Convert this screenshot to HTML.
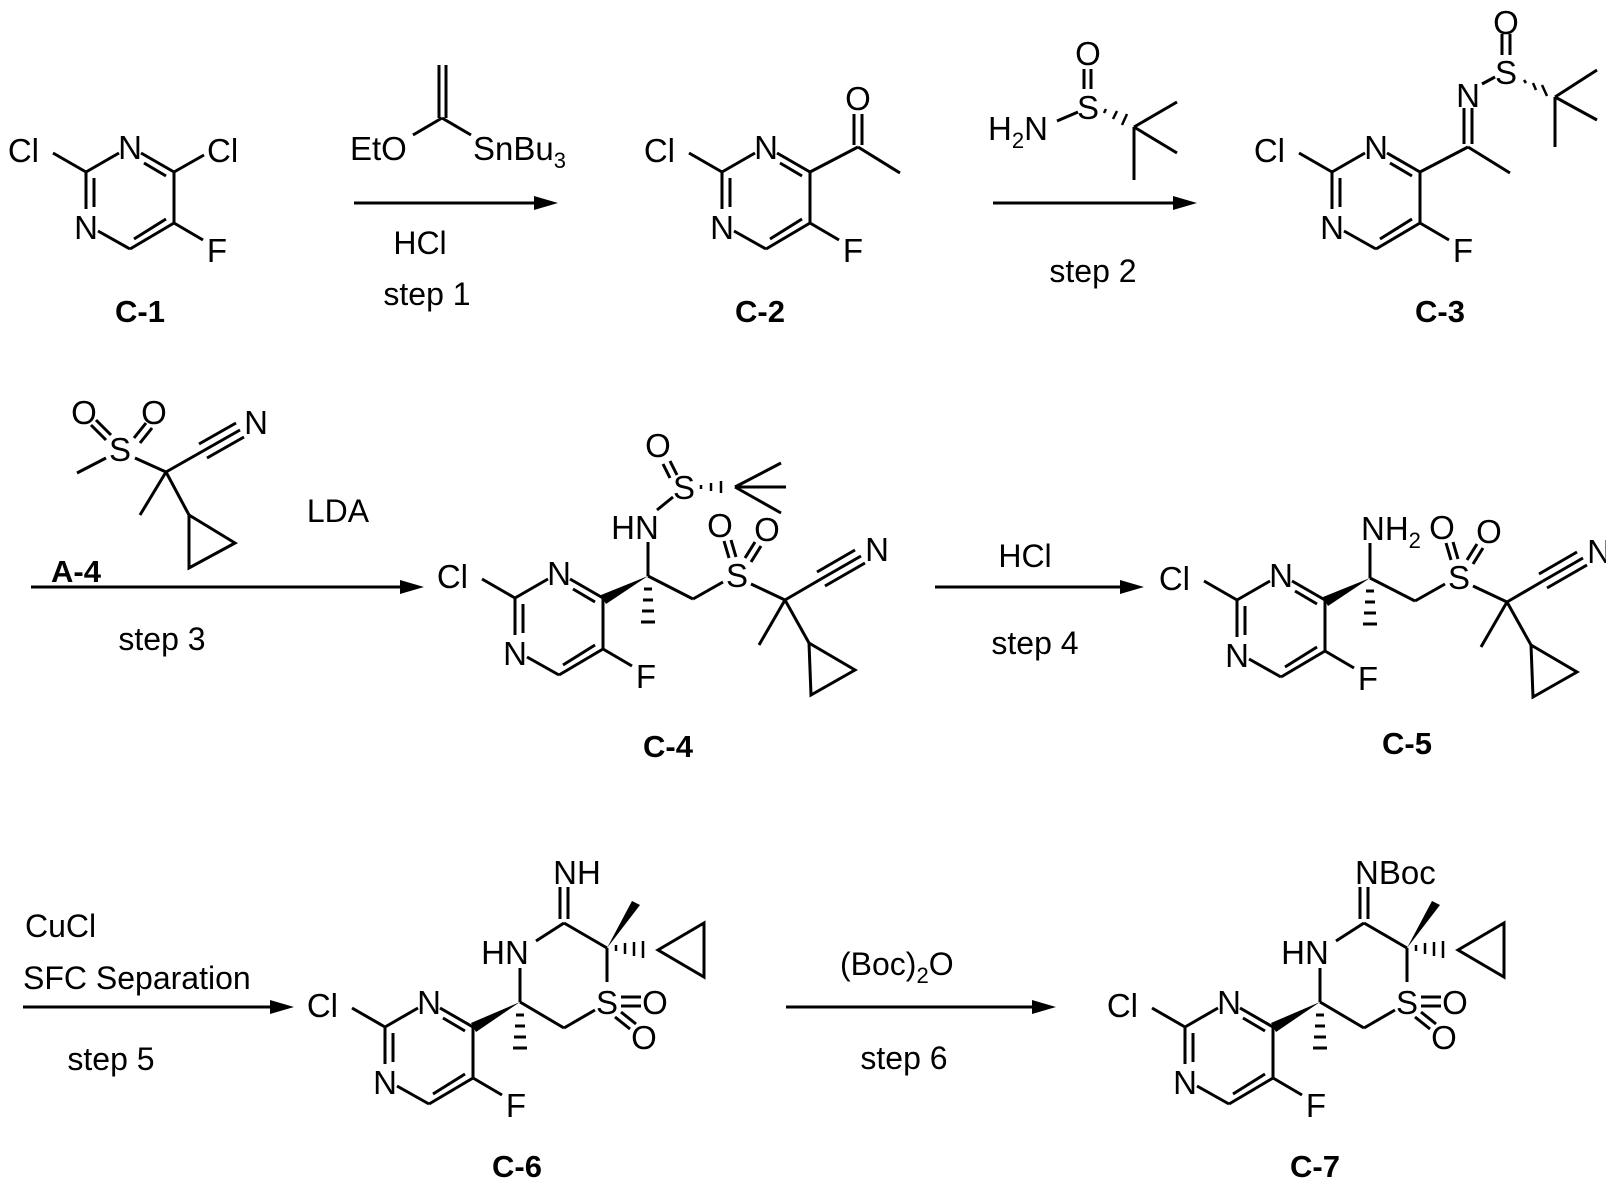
<!DOCTYPE html>
<html><head><meta charset="utf-8"><style>
html,body{margin:0;padding:0;background:#fff;}
svg{display:block;}
text{font-family:"Liberation Sans",Arial,sans-serif;font-size:33px;fill:#000;}
.b{font-weight:bold;font-size:31px;}
.r{font-size:32px;}
</style></head><body>
<svg width="1606" height="1181" viewBox="0 0 1606 1181" xmlns="http://www.w3.org/2000/svg">
<defs>
<g id="pyr" stroke="#000" stroke-width="3" fill="none">
  <line x1="-33" y1="-19" x2="0" y2="0"/>
  <line x1="0" y1="0" x2="33" y2="-19"/>
  <line x1="55" y1="-19" x2="88" y2="0"/>
  <line x1="58" y1="-9" x2="80" y2="4"/>
  <line x1="88" y1="0" x2="88" y2="51"/>
  <line x1="88" y1="51" x2="44" y2="77"/>
  <line x1="80" y1="47" x2="48" y2="67"/>
  <line x1="44" y1="77" x2="12" y2="59"/>
  <line x1="0" y1="0" x2="0" y2="37"/>
  <line x1="8" y1="6" x2="8" y2="35"/>
  <line x1="88" y1="51" x2="117" y2="68"/>
</g>
<g id="pyrt">
  <text x="-47" y="-10" text-anchor="end">Cl</text>
  <text x="44" y="-13" text-anchor="middle">N</text>
  <text x="0" y="67" text-anchor="middle">N</text>
  <text x="131" y="90" text-anchor="middle">F</text>
</g>
<g id="side" stroke="#000" stroke-width="3" fill="none">
  <line x1="133" y1="-22" x2="178" y2="1"/>
  <line x1="178" y1="1" x2="208" y2="-16"/>
  <line x1="236" y1="-14" x2="270" y2="2"/>
  <line x1="214" y1="-40" x2="209" y2="-57"/><line x1="221" y1="-41" x2="216" y2="-58"/>
  <line x1="230" y1="-40" x2="240" y2="-56"/><line x1="236" y1="-36" x2="246" y2="-52"/>
  <line x1="270" y1="2" x2="306" y2="-19"/>
  <line x1="306" y1="-19" x2="346" y2="-42"/>
  <line x1="302" y1="-26" x2="340" y2="-48"/>
  <line x1="310" y1="-12" x2="350" y2="-35"/>
  <line x1="270" y1="2" x2="244" y2="47"/>
  <line x1="270" y1="2" x2="294" y2="45"/>
  <polygon points="294,45 340,72 296,97"/>
</g>
<g id="sidet">
  <text x="222" y="-11" text-anchor="middle">S</text>
  <text x="205" y="-61" text-anchor="middle">O</text>
  <text x="252" y="-57" text-anchor="middle">O</text>
  <text x="362" y="-37" text-anchor="middle">N</text>
</g>
<g id="ring6" stroke="#000" stroke-width="3" fill="none">
  <line x1="135" y1="-25" x2="135" y2="-59"/>
  <line x1="151" y1="-86" x2="179" y2="-104"/>
  <line x1="175" y1="-108" x2="175" y2="-140"/>
  <line x1="183" y1="-108" x2="183" y2="-140"/>
  <line x1="179" y1="-104" x2="222" y2="-79"/>
  <line x1="222" y1="-79" x2="222" y2="-45"/>
  <line x1="236" y1="-30" x2="256" y2="-30"/>
  <line x1="236" y1="-21" x2="256" y2="-21"/>
  <line x1="230" y1="-10" x2="245" y2="2"/>
  <line x1="236" y1="-15" x2="251" y2="-3"/>
  <line x1="210" y1="-17" x2="179" y2="1"/>
  <line x1="179" y1="1" x2="135" y2="-25"/>
  <polygon points="273,-77 319,-104 319,-50"/>
  <g stroke-width="2.5">
    <line x1="231" y1="-82" x2="231" y2="-76"/><line x1="240" y1="-84" x2="240" y2="-73"/>
    <line x1="249" y1="-85" x2="249" y2="-71"/><line x1="258" y1="-86" x2="258" y2="-69"/>
  </g>
  <g stroke-width="3">
    <line x1="131" y1="-12" x2="139" y2="-12"/><line x1="130" y1="-1" x2="140" y2="-1"/>
    <line x1="129" y1="10" x2="141" y2="10"/><line x1="128" y1="21" x2="142" y2="21"/>
  </g>
</g>
<g id="ring6f">
  <polygon points="222,-79 247,-126 255,-122"/>
  <polygon points="135,-25 86,-4 91,5"/>
</g>
</defs>

<g transform="translate(86,172)">
  <use href="#pyr"/><use href="#pyrt"/>
  <line x1="88" y1="0" x2="118" y2="-17" stroke="#000" stroke-width="3"/>
  <text x="121" y="-10">Cl</text>
</g>
<text class="b" x="140" y="322" text-anchor="middle">C-1</text>

<g stroke="#000" stroke-width="3" fill="none">
  <line x1="442" y1="118" x2="413" y2="135"/>
  <line x1="442" y1="118" x2="471" y2="135"/>
  <line x1="439" y1="118" x2="439" y2="65"/>
  <line x1="446" y1="118" x2="446" y2="65"/>
  <line x1="354" y1="203" x2="538" y2="203"/>
</g>
<polygon points="558,203 534,196 534,210"/>
<text x="350" y="160">EtO</text>
<text x="473" y="160">SnBu<tspan font-size="22" dy="8">3</tspan></text>
<text class="r" x="420" y="254" text-anchor="middle">HCl</text>
<text class="r" x="427" y="305" text-anchor="middle">step 1</text>

<g transform="translate(722,172)">
  <use href="#pyr"/><use href="#pyrt"/>
  <g stroke="#000" stroke-width="3">
    <line x1="88" y1="0" x2="136" y2="-25"/>
    <line x1="136" y1="-25" x2="178" y2="1"/>
    <line x1="132" y1="-27" x2="132" y2="-58"/>
    <line x1="140" y1="-27" x2="140" y2="-58"/>
  </g>
  <text x="136" y="-62" text-anchor="middle">O</text>
</g>
<text class="b" x="760" y="322" text-anchor="middle">C-2</text>

<g stroke="#000" stroke-width="3" fill="none">
  <line x1="1057" y1="121" x2="1078" y2="112"/>
  <line x1="1084" y1="69" x2="1084" y2="89"/>
  <line x1="1091" y1="69" x2="1091" y2="89"/>
  <line x1="1134" y1="127" x2="1177" y2="102"/>
  <line x1="1134" y1="127" x2="1177" y2="153"/>
  <line x1="1134" y1="127" x2="1134" y2="180"/>
  <line x1="993" y1="203" x2="1177" y2="203"/>
</g>
<g stroke="#000" stroke-width="2.5">
  <line x1="1104" y1="113" x2="1106" y2="109"/><line x1="1113" y1="119" x2="1117" y2="111"/>
  <line x1="1122" y1="125" x2="1127" y2="114"/>
</g>
<polygon points="1197,203 1173,196 1173,210"/>
<text x="988" y="140">H<tspan font-size="22" dy="8">2</tspan><tspan dy="-8">N</tspan></text>
<text x="1088" y="119" text-anchor="middle">S</text>
<text x="1088" y="65" text-anchor="middle">O</text>
<text class="r" x="1093" y="282" text-anchor="middle">step 2</text>

<g transform="translate(1332,172)">
  <use href="#pyr"/><use href="#pyrt"/>
  <g stroke="#000" stroke-width="3" fill="none">
    <line x1="88" y1="0" x2="136" y2="-25"/>
    <line x1="136" y1="-25" x2="178" y2="1"/>
    <line x1="132" y1="-28" x2="132" y2="-64"/>
    <line x1="140" y1="-28" x2="140" y2="-64"/>
    <line x1="150" y1="-88" x2="163" y2="-95"/>
    <line x1="170" y1="-117" x2="170" y2="-138"/>
    <line x1="178" y1="-117" x2="178" y2="-138"/>
    <line x1="223" y1="-75" x2="265" y2="-102"/>
    <line x1="223" y1="-75" x2="265" y2="-52"/>
    <line x1="223" y1="-75" x2="223" y2="-25"/>
  </g>
  <g stroke="#000" stroke-width="2.5">
    <line x1="192" y1="-92" x2="194" y2="-89"/><line x1="201" y1="-89" x2="204" y2="-82"/>
    <line x1="210" y1="-87" x2="215" y2="-76"/>
  </g>
  <text x="136" y="-65" text-anchor="middle">N</text>
  <text x="174" y="-88" text-anchor="middle">S</text>
  <text x="174" y="-138" text-anchor="middle">O</text>
</g>
<text class="b" x="1440" y="322" text-anchor="middle">C-3</text>

<g stroke="#000" stroke-width="3" fill="none">
  <line x1="91" y1="425" x2="106" y2="440"/><line x1="96" y1="420" x2="111" y2="435"/>
  <line x1="146" y1="423" x2="134" y2="438"/><line x1="152" y1="428" x2="140" y2="443"/>
  <line x1="106" y1="458" x2="77" y2="473"/>
  <line x1="135" y1="458" x2="166" y2="472"/>
  <line x1="166" y1="472" x2="203" y2="451"/>
  <line x1="203" y1="451" x2="240" y2="430"/>
  <line x1="199" y1="444" x2="236" y2="423"/>
  <line x1="207" y1="458" x2="244" y2="437"/>
  <line x1="166" y1="472" x2="140" y2="515"/>
  <line x1="166" y1="472" x2="189" y2="515"/>
  <polygon points="189,515 235,543 189,568"/>
  <line x1="31" y1="587" x2="403" y2="587"/>
</g>
<polygon points="424,587 400,580 400,594"/>
<text x="120" y="461" text-anchor="middle">S</text>
<text x="84" y="424" text-anchor="middle">O</text>
<text x="154" y="424" text-anchor="middle">O</text>
<text x="256" y="434" text-anchor="middle">N</text>
<text class="r" x="338" y="522" text-anchor="middle">LDA</text>
<text class="b" x="76" y="582" text-anchor="middle">A-4</text>
<text class="r" x="162" y="650" text-anchor="middle">step 3</text>

<g transform="translate(515,598)">
  <use href="#pyr"/><use href="#pyrt"/>
  <use href="#side"/><use href="#sidet"/>
  <polygon points="133,-22 86,-3 91,6"/>
  <g stroke="#000" stroke-width="3" fill="none">
    <line x1="133" y1="-22" x2="133" y2="-56"/>
    <line x1="142" y1="-88" x2="158" y2="-101"/>
    <line x1="148" y1="-134" x2="155" y2="-120"/>
    <line x1="155" y1="-137" x2="162" y2="-123"/>
    <line x1="220" y1="-111" x2="266" y2="-135"/>
    <line x1="220" y1="-111" x2="271" y2="-111"/>
    <line x1="220" y1="-111" x2="266" y2="-85"/>
    <line x1="129" y1="-9" x2="137" y2="-9"/><line x1="128" y1="2" x2="138" y2="2"/>
    <line x1="127" y1="13" x2="139" y2="13"/><line x1="126" y1="24" x2="140" y2="24"/>
  </g>
  <g stroke="#000" stroke-width="2.5">
    <line x1="186" y1="-113" x2="186" y2="-109"/><line x1="196" y1="-115" x2="196" y2="-107"/>
    <line x1="206" y1="-117" x2="206" y2="-105"/>
  </g>
  <text x="120" y="-59" text-anchor="middle">HN</text>
  <text x="169" y="-99" text-anchor="middle">S</text>
  <text x="143" y="-141" text-anchor="middle">O</text>
</g>
<text class="b" x="668" y="757" text-anchor="middle">C-4</text>

<line x1="935" y1="587" x2="1123" y2="587" stroke="#000" stroke-width="3"/>
<polygon points="1144,587 1120,580 1120,594"/>
<text class="r" x="1025" y="567" text-anchor="middle">HCl</text>
<text class="r" x="1035" y="654" text-anchor="middle">step 4</text>

<g transform="translate(1237,600)">
  <use href="#pyr"/><use href="#pyrt"/>
  <use href="#side"/><use href="#sidet"/>
  <polygon points="133,-22 86,-3 91,6"/>
  <g stroke="#000" stroke-width="3" fill="none">
    <line x1="133" y1="-22" x2="133" y2="-57"/>
    <line x1="129" y1="-9" x2="137" y2="-9"/><line x1="128" y1="2" x2="138" y2="2"/>
    <line x1="127" y1="13" x2="139" y2="13"/><line x1="126" y1="24" x2="140" y2="24"/>
  </g>
  <text x="124" y="-60">NH<tspan font-size="22" dy="8">2</tspan></text>
</g>
<text class="b" x="1407" y="754" text-anchor="middle">C-5</text>

<line x1="23" y1="1007" x2="273" y2="1007" stroke="#000" stroke-width="3"/>
<polygon points="294,1007 270,1000 270,1014"/>
<text class="r" x="25" y="937">CuCl</text>
<text class="r" x="23" y="989">SFC Separation</text>
<text class="r" x="111" y="1070" text-anchor="middle">step 5</text>

<g transform="translate(385,1027)">
  <use href="#pyr"/><use href="#pyrt"/>
  <use href="#ring6"/><use href="#ring6f"/>
  <text x="120" y="-63" text-anchor="middle">HN</text>
  <text x="192" y="-143" text-anchor="middle">NH</text>
  <text x="222" y="-13" text-anchor="middle">S</text>
  <text x="270" y="-13" text-anchor="middle">O</text>
  <text x="259" y="22" text-anchor="middle">O</text>
</g>
<text class="b" x="517" y="1177" text-anchor="middle">C-6</text>

<line x1="786" y1="1007" x2="1035" y2="1007" stroke="#000" stroke-width="3"/>
<polygon points="1056,1007 1032,1000 1032,1014"/>
<text class="r" x="840" y="975">(Boc)<tspan font-size="22" dy="8">2</tspan><tspan dy="-8">O</tspan></text>
<text class="r" x="904" y="1069" text-anchor="middle">step 6</text>

<g transform="translate(1185,1027)">
  <use href="#pyr"/><use href="#pyrt"/>
  <use href="#ring6"/><use href="#ring6f"/>
  <text x="120" y="-63" text-anchor="middle">HN</text>
  <text x="170" y="-143">NBoc</text>
  <text x="222" y="-13" text-anchor="middle">S</text>
  <text x="270" y="-13" text-anchor="middle">O</text>
  <text x="259" y="22" text-anchor="middle">O</text>
</g>
<text class="b" x="1315" y="1177" text-anchor="middle">C-7</text>
</svg>
</body></html>
